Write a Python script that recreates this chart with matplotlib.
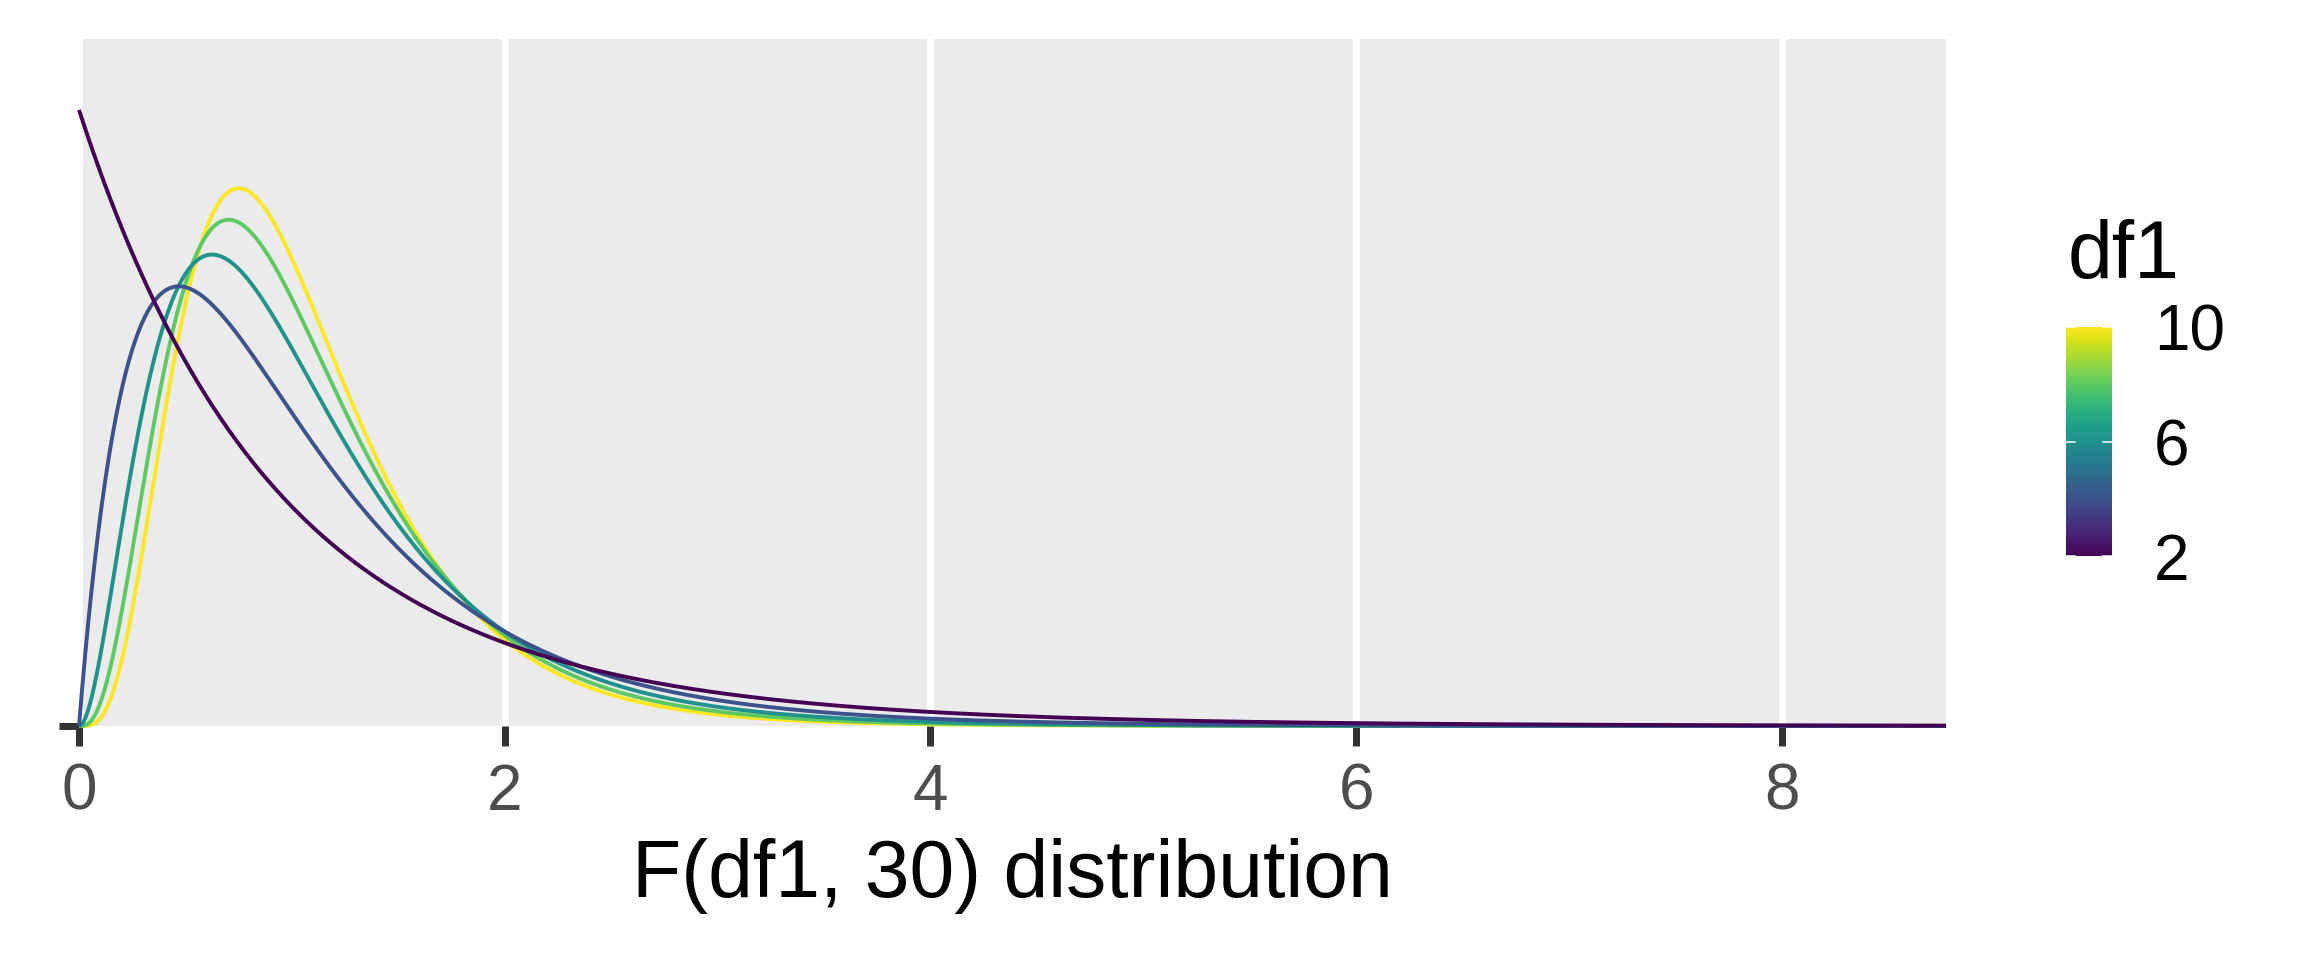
import math
import numpy as np
import matplotlib
matplotlib.use("Agg")
import matplotlib.pyplot as plt

# ---- data ----
df1_values = [2, 4, 6, 8, 10]
df2_value = 30
x_ticks = [0, 2, 4, 6, 8]
x_max = 8.772
legend_ticks = [2, 6, 10]
x_title = "F(df1, 30) distribution"
legend_title = "df1"

def f_pdf(x, d1, d2):
    lb = math.lgamma(d1 / 2) + math.lgamma(d2 / 2) - math.lgamma((d1 + d2) / 2)
    out = np.zeros_like(x)
    pos = x > 0
    xp = x[pos]
    out[pos] = np.exp((d1 / 2) * math.log(d1 / d2) + (d1 / 2 - 1) * np.log(xp)
                      - ((d1 + d2) / 2) * np.log1p(d1 * xp / d2) - lb)
    if d1 == 2:
        out[~pos] = 1.0
    return out

W, H = 2304, 960
DPI = 100
fig = plt.figure(figsize=(W / DPI, H / DPI), dpi=DPI)
plt.rcParams['font.family'] = ['Liberation Sans', 'DejaVu Sans']

def px2pt(p):
    return p * 72 / DPI

L, R, T, B = 79, 1946, 39, 726
ax = fig.add_axes([L / W, 1 - B / H, (R - L) / W, (B - T) / H])
ax.set_facecolor('#EBEBEB')
for s in ax.spines.values():
    s.set_visible(False)

x = np.linspace(0, x_max, 1200)
cmap = matplotlib.colormaps['viridis']
norm = matplotlib.colors.Normalize(vmin=min(df1_values), vmax=max(df1_values))
for d1 in sorted(df1_values, reverse=True):
    ax.plot(x, f_pdf(x, d1, df2_value), color=cmap(norm(d1)),
            lw=px2pt(3.9), clip_on=False, zorder=3, solid_capstyle='butt')

ax.set_xlim(0.011, x_max)
ax.set_ylim(0, 1.115)
ax.set_xticks(x_ticks)
ax.set_xticklabels([str(t) for t in x_ticks])
ax.set_yticks([0])
ax.set_yticklabels([''])
ax.grid(axis='x', color='white', lw=px2pt(7), zorder=1)
ax.set_axisbelow(True)
ax.tick_params(axis='both', length=px2pt(20), width=px2pt(7), color='#333333')
ax.tick_params(axis='x', labelsize=46, labelcolor='#4D4D4D', pad=px2pt(17))
ax.set_xlabel(x_title, fontsize=58, color='black', labelpad=px2pt(15))

# colour bar
cL, cR, cT, cB = 2066, 2112, 327, 556
cax = fig.add_axes([cL / W, 1 - cB / H, (cR - cL) / W, (cB - cT) / H])
grad = np.linspace(min(df1_values), max(df1_values), 256).reshape(-1, 1)
cax.imshow(grad, aspect='auto', cmap=cmap, norm=norm, origin='lower',
           extent=[0, 1, min(df1_values), max(df1_values)])
cax.set_xlim(0, 1)
cax.set_ylim(min(df1_values), max(df1_values))
for s in cax.spines.values():
    s.set_visible(False)
cax.set_xticks([])
for t in legend_ticks:
    cax.plot([0, 0.2], [t, t], color='white', lw=px2pt(1.5), clip_on=False)
    cax.plot([0.8, 1], [t, t], color='white', lw=px2pt(1.5), clip_on=False)
cax.yaxis.tick_right()
cax.set_yticks(legend_ticks)
cax.set_yticklabels([str(t) for t in legend_ticks])
cax.tick_params(axis='y', length=0, labelsize=46, labelcolor='black', pad=px2pt(42))
fig.text(2068 / W, 1 - 278 / H, legend_title, fontsize=58, color='black',
         ha='left', va='baseline')

fig.savefig('out.png', dpi=DPI, facecolor='white')
